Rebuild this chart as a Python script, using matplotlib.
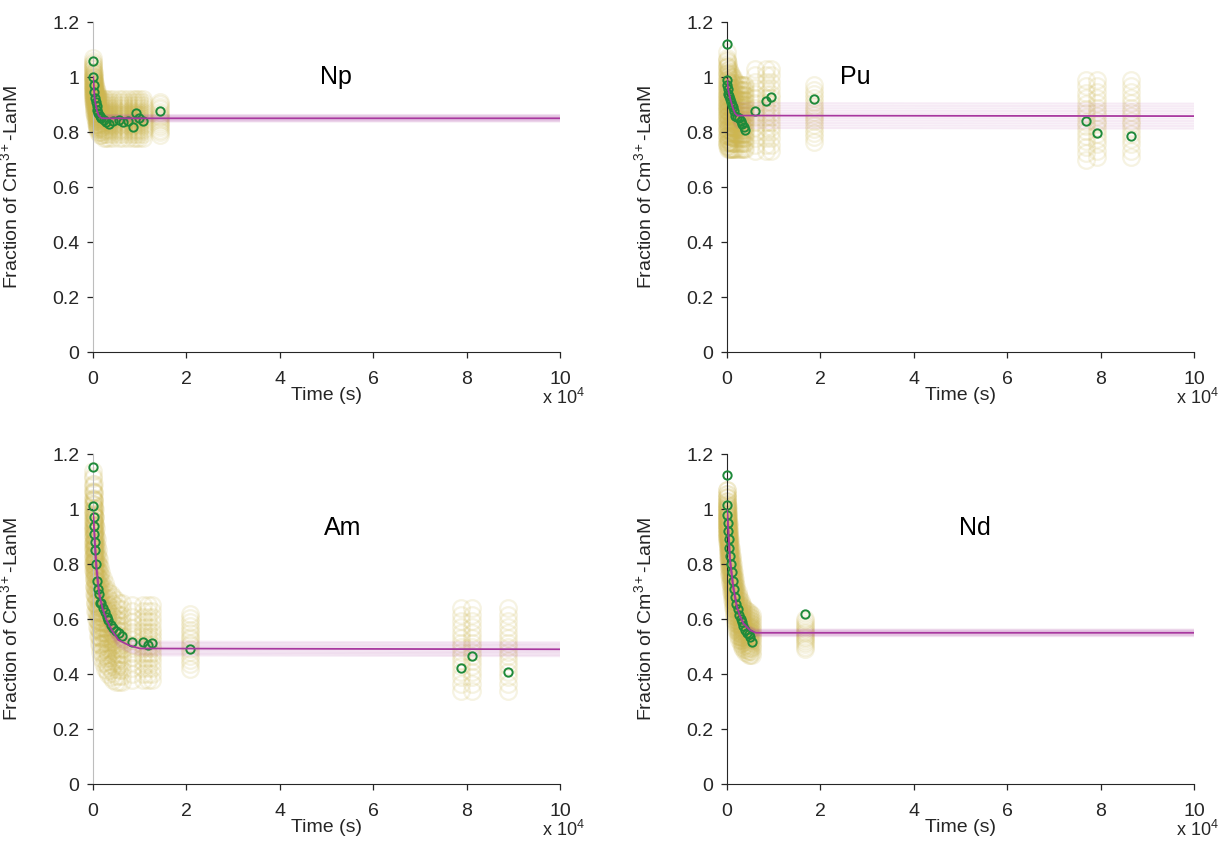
import matplotlib
matplotlib.use('Agg')
import matplotlib.pyplot as plt

plt.rcParams['font.family'] = ['Liberation Sans', 'DejaVu Sans']
plt.rcParams['mathtext.fontset'] = 'custom'
plt.rcParams['mathtext.rm'] = 'Liberation Sans'
plt.rcParams['mathtext.it'] = 'Liberation Sans:italic'
plt.rcParams['mathtext.default'] = 'regular'

# ---- data (time in s, fraction of Cm3+-LanM) ----
np_t = [0, 0, 150, 300, 450, 600, 750, 900, 1100, 1400, 1800, 2300, 2800, 3400, 4200,
        5500, 6500, 7500, 8500, 9200, 9800, 10600, 14300]
np_y = [1.06, 1.0, 0.97, 0.945, 0.925, 0.91, 0.895, 0.88, 0.87, 0.86, 0.85, 0.845, 0.835,
        0.83, 0.84, 0.845, 0.835, 0.84, 0.82, 0.868, 0.85, 0.84, 0.877]
np_lo = [0.93, 0.91, 0.89, 0.87, 0.85, 0.83, 0.82, 0.81, 0.80, 0.79, 0.79, 0.78, 0.78,
         0.78, 0.78, 0.78, 0.78, 0.78, 0.78, 0.78, 0.78, 0.78, 0.79]
np_hi = [1.07, 1.05, 1.02, 1.0, 0.98, 0.96, 0.95, 0.94, 0.93, 0.92, 0.92, 0.92, 0.92,
         0.92, 0.92, 0.92, 0.92, 0.92, 0.92, 0.92, 0.92, 0.92, 0.91]
np_fit_t = [0, 150, 300, 500, 800, 1200, 1600, 2000, 100000]
np_fit_y = [1.0, 0.96, 0.93, 0.905, 0.88, 0.86, 0.853, 0.85, 0.85]

pu_t = [0, 0, 100, 200, 300, 450, 600, 800, 1000, 1200, 1500, 1800, 2100, 2500, 2900,
        3300, 3600, 3900, 6000, 8400, 9500, 18600, 76900, 79200, 86400]
pu_y = [1.12, 0.99, 0.97, 0.955, 0.94, 0.93, 0.92, 0.91, 0.9, 0.89, 0.875, 0.86, 0.855,
        0.85, 0.84, 0.83, 0.82, 0.807, 0.877, 0.914, 0.926, 0.92, 0.84, 0.797, 0.787]
pu_lo = [0.76, 0.76, 0.75, 0.75, 0.74, 0.74, 0.74, 0.74, 0.74, 0.74, 0.74, 0.74, 0.74,
         0.74, 0.74, 0.74, 0.74, 0.74, 0.73, 0.73, 0.73, 0.765, 0.70, 0.71, 0.71]
pu_hi = [1.09, 1.07, 1.06, 1.05, 1.04, 1.03, 1.02, 1.01, 1.0, 1.0, 0.99, 0.98, 0.98,
         0.97, 0.97, 0.97, 0.97, 0.97, 1.03, 1.03, 1.03, 0.97, 0.99, 0.99, 0.99]
pu_fit_t = [0, 300, 700, 1200, 1700, 2200, 100000]
pu_fit_y = [0.99, 0.95, 0.92, 0.89, 0.868, 0.86, 0.858]

am_t = [0, 0, 100, 200, 300, 400, 500, 650, 800, 1000, 1200, 1500, 1800, 2100, 2500,
        2900, 3300, 3800, 4300, 4900, 5500, 6100, 8300, 10700, 11800, 12600, 20800,
        78800, 81200, 88900]
am_y = [1.152, 1.011, 0.97, 0.94, 0.91, 0.88, 0.85, 0.8, 0.74, 0.71, 0.69, 0.66, 0.657,
        0.64, 0.625, 0.608, 0.595, 0.58, 0.566, 0.555, 0.548, 0.54, 0.515, 0.515, 0.505,
        0.514, 0.49, 0.422, 0.465, 0.407]
am_lo = [0.80, 0.78, 0.76, 0.72, 0.69, 0.66, 0.63, 0.60, 0.57, 0.54, 0.51, 0.48, 0.46,
         0.44, 0.42, 0.41, 0.40, 0.39, 0.38, 0.37, 0.37, 0.37, 0.38, 0.38, 0.38, 0.38,
         0.42, 0.34, 0.34, 0.34]
am_hi = [1.14, 1.12, 1.09, 1.06, 1.03, 1.0, 0.97, 0.93, 0.89, 0.85, 0.82, 0.79, 0.77,
         0.75, 0.73, 0.71, 0.70, 0.69, 0.68, 0.67, 0.66, 0.66, 0.65, 0.65, 0.65, 0.65,
         0.62, 0.64, 0.64, 0.64]
am_fit_t = [0, 300, 700, 1300, 2000, 2900, 4000, 5400, 7600, 10000, 100000]
am_fit_y = [0.984, 0.90, 0.79, 0.693, 0.64, 0.596, 0.56, 0.524, 0.505, 0.493, 0.49]

nd_t = [0, 0, 100, 200, 300, 400, 500, 650, 800, 1000, 1200, 1450, 1700, 2000, 2300,
        2600, 2900, 3200, 3500, 3850, 4200, 4600, 5000, 5300, 16700]
nd_y = [1.124, 1.015, 0.98, 0.95, 0.92, 0.89, 0.86, 0.83, 0.8, 0.77, 0.74, 0.71, 0.68,
        0.655, 0.635, 0.615, 0.6, 0.59, 0.575, 0.56, 0.55, 0.545, 0.535, 0.517, 0.617]
nd_lo = [0.90, 0.90, 0.88, 0.85, 0.82, 0.79, 0.76, 0.73, 0.70, 0.67, 0.64, 0.61, 0.585,
         0.56, 0.54, 0.525, 0.51, 0.50, 0.49, 0.48, 0.475, 0.47, 0.47, 0.47, 0.49]
nd_hi = [1.07, 1.07, 1.04, 1.01, 0.98, 0.95, 0.92, 0.89, 0.86, 0.83, 0.80, 0.77, 0.745,
         0.72, 0.70, 0.68, 0.665, 0.655, 0.645, 0.635, 0.63, 0.625, 0.62, 0.615, 0.60]
nd_fit_t = [0, 640, 1300, 2100, 2800, 3500, 4900, 6200, 100000]
nd_fit_y = [0.996, 0.815, 0.72, 0.645, 0.61, 0.584, 0.56, 0.55, 0.55]

panels = [
    ('Np', np_t, np_y, np_lo, np_hi, np_fit_t, np_fit_y, 0.012, (52000, 1.0)),
    ('Pu', pu_t, pu_y, pu_lo, pu_hi, pu_fit_t, pu_fit_y, 0.045, (27500, 1.0)),
    ('Am', am_t, am_y, am_lo, am_hi, am_fit_t, am_fit_y, 0.025, (53500, 0.93)),
    ('Nd', nd_t, nd_y, nd_lo, nd_hi, nd_fit_t, nd_fit_y, 0.012, (53000, 0.93)),
]
positions = [[0.0759, 0.5897, 0.381, 0.3846], [0.593, 0.5897, 0.381, 0.3846],
             [0.0759, 0.0862, 0.381, 0.3846], [0.593, 0.0862, 0.381, 0.3846]]
gray_spine = ['Np', 'Am']

cloud_frac = [0, 0.08, 0.16, 0.23, 0.3, 0.36, 0.42, 0.47, 0.53, 0.58, 0.64, 0.7, 0.77,
              0.84, 0.92, 1.0]
band_frac = [-1, -0.8, -0.6, -0.4, -0.2, 0.2, 0.4, 0.6, 0.8, 1]

yellow = '#cdb650'
green = '#1e8a3a'
magenta = '#a8389f'
dark = '#262626'

fig = plt.figure(figsize=(12.26, 8.58), dpi=100)

for (name, t, y, lo, hi, ft, fy, band, tpos), pos in zip(panels, positions):
    ax = fig.add_axes(pos)
    # simulated replicate cloud
    for f in cloud_frac:
        yy = [l + f * (h - l) for l, h in zip(lo, hi)]
        ax.plot(t, yy, 'o', ms=12, mfc='none', mec=yellow, mew=1.6, alpha=0.16,
                clip_on=False, zorder=1)
    # measured points
    ax.plot(t, y, 'o', ms=6, mfc='none', mec=green, mew=1.4, clip_on=False, zorder=3)
    # fit with uncertainty band
    for b in band_frac:
        ax.plot(ft, [v + b * band for v in fy], '-', color=magenta, lw=1.5, alpha=0.1, zorder=2)
    ax.plot(ft, fy, '-', color=magenta, lw=1.3, zorder=4)

    ax.text(tpos[0], tpos[1], name, fontsize=18, ha='center', va='center', color='black')

    ax.set_xlim(0, 100000)
    ax.set_ylim(0, 1.2)
    ax.set_xticks([0, 20000, 40000, 60000, 80000, 100000])
    ax.set_xticklabels(['0', '2', '4', '6', '8', '10'])
    ax.set_yticks([0, 0.2, 0.4, 0.6, 0.8, 1.0, 1.2])
    ax.set_yticklabels(['0', '0.2', '0.4', '0.6', '0.8', '1', '1.2'])
    ax.tick_params(direction='out', length=4, width=0.9, colors=dark, labelsize=14)
    ax.tick_params(axis='x', pad=10)
    ax.tick_params(axis='y', pad=6)
    ax.spines['top'].set_visible(False)
    ax.spines['right'].set_visible(False)
    ax.spines['bottom'].set_color(dark)
    ax.spines['left'].set_color('#bdbdbd' if name in gray_spine else dark)

    ax.set_xlabel('Time (s)', fontsize=14, color=dark)
    ax.xaxis.set_label_coords(0.5, -0.105)
    ax.set_ylabel('Fraction of Cm$^{3+}$-LanM', fontsize=14, color=dark)
    ax.yaxis.set_label_coords(-0.155, 0.5)
    ax.text(0.962, -0.14, 'x 10$^{4}$', transform=ax.transAxes, fontsize=13,
            ha='left', va='center', color=dark)

fig.savefig('out.png', dpi=100)
